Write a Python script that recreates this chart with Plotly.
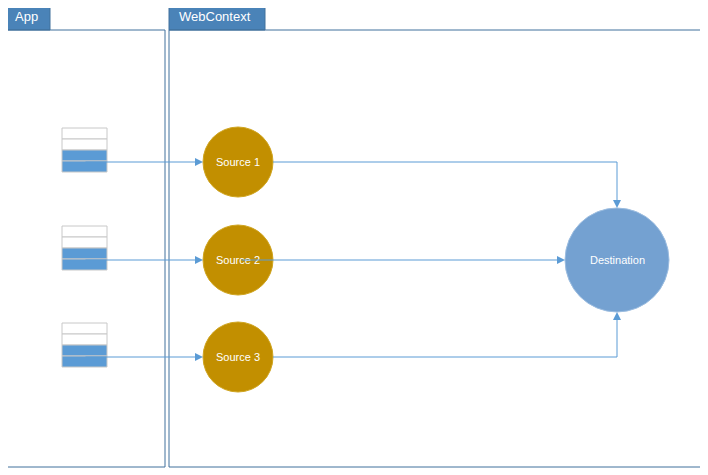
import plotly.graph_objects as go

# diagram content
panels = ["App", "WebContext"]
panel_x0 = [5, 169]
panel_x1 = [165, 702]
tab_x1 = [50, 265]
sources = ["Source 1", "Source 2", "Source 3"]
source_y = [162, 260, 357]
dest_name = "Destination"
dest_xy = (617, 260)

blue = "#4a83b8"
gold = "#c28f00"
line = "#5b9bd5"

# page body has an 8px margin, so offset the axis ranges to land marks where they belong
off = 8

fig = go.Figure()
shapes = []
annotations = []

for name, x0, x1, tx in zip(panels, panel_x0, panel_x1, tab_x1):
    shapes.append(dict(type="rect", x0=x0, x1=tx, y0=2, y1=30,
                       fillcolor=blue, line=dict(color="#41719c", width=1)))
    shapes.append(dict(type="rect", x0=x0, x1=x1, y0=30, y1=467,
                       line=dict(color="#41719c", width=1)))
    annotations.append(dict(x=x0 + 8, y=16, text=name, showarrow=False, xanchor="left",
                            font=dict(color="white", size=13, family="Liberation Sans")))

for name, y in zip(sources, source_y):
    # stacked data icon
    for i, fill in enumerate(["white", "white", line, line]):
        top = y - 34 + i * 11
        shapes.append(dict(type="rect", x0=62, x1=107, y0=top, y1=top + 11,
                           fillcolor=fill, line=dict(color="#c8c8c8", width=1)))
    shapes.append(dict(type="circle", x0=203, x1=273, y0=y - 35, y1=y + 35,
                       fillcolor=gold, line=dict(color="#d0a520", width=1)))
    annotations.append(dict(x=238, y=y, text=name, showarrow=False,
                            font=dict(color="white", size=11, family="Liberation Sans")))
    annotations.append(dict(x=203, y=y, ax=84, ay=y, axref="x", ayref="y", text="",
                            showarrow=True, arrowhead=2, arrowsize=1.6, arrowwidth=1,
                            arrowcolor=line, standoff=0))

dx, dy = dest_xy
shapes.append(dict(type="circle", x0=dx - 52, x1=dx + 52, y0=dy - 52, y1=dy + 52,
                   fillcolor="#74a1d1", line=dict(color="#9cbde0", width=1)))
annotations.append(dict(x=dx, y=dy, text=dest_name, showarrow=False,
                        font=dict(color="white", size=11, family="Liberation Sans")))

# source to destination connectors
shapes.append(dict(type="path", path=f"M 273 {source_y[0]} L {dx} {source_y[0]} L {dx} 203",
                   line=dict(color=line, width=1)))
shapes.append(dict(type="path", path=f"M 273 {source_y[2]} L {dx} {source_y[2]} L {dx} 317",
                   line=dict(color=line, width=1)))
for tip, tail in [((dx, dy - 52), (dx, 200)), ((dx, dy + 52), (dx, 320)), ((dx - 52, dy), (240, dy))]:
    annotations.append(dict(x=tip[0], y=tip[1], ax=tail[0], ay=tail[1], axref="x", ayref="y",
                            text="", showarrow=True, arrowhead=2, arrowsize=1.6, arrowwidth=1,
                            arrowcolor=line, standoff=0))

fig.update_layout(
    width=708, height=475, margin=dict(l=0, r=0, t=0, b=0),
    plot_bgcolor="white", paper_bgcolor="white", showlegend=False,
    xaxis=dict(range=[off, 708 + off], visible=False, fixedrange=True),
    yaxis=dict(range=[475 + off, off], visible=False, fixedrange=True),
    shapes=shapes, annotations=annotations,
)

fig.write_html("out.html")
